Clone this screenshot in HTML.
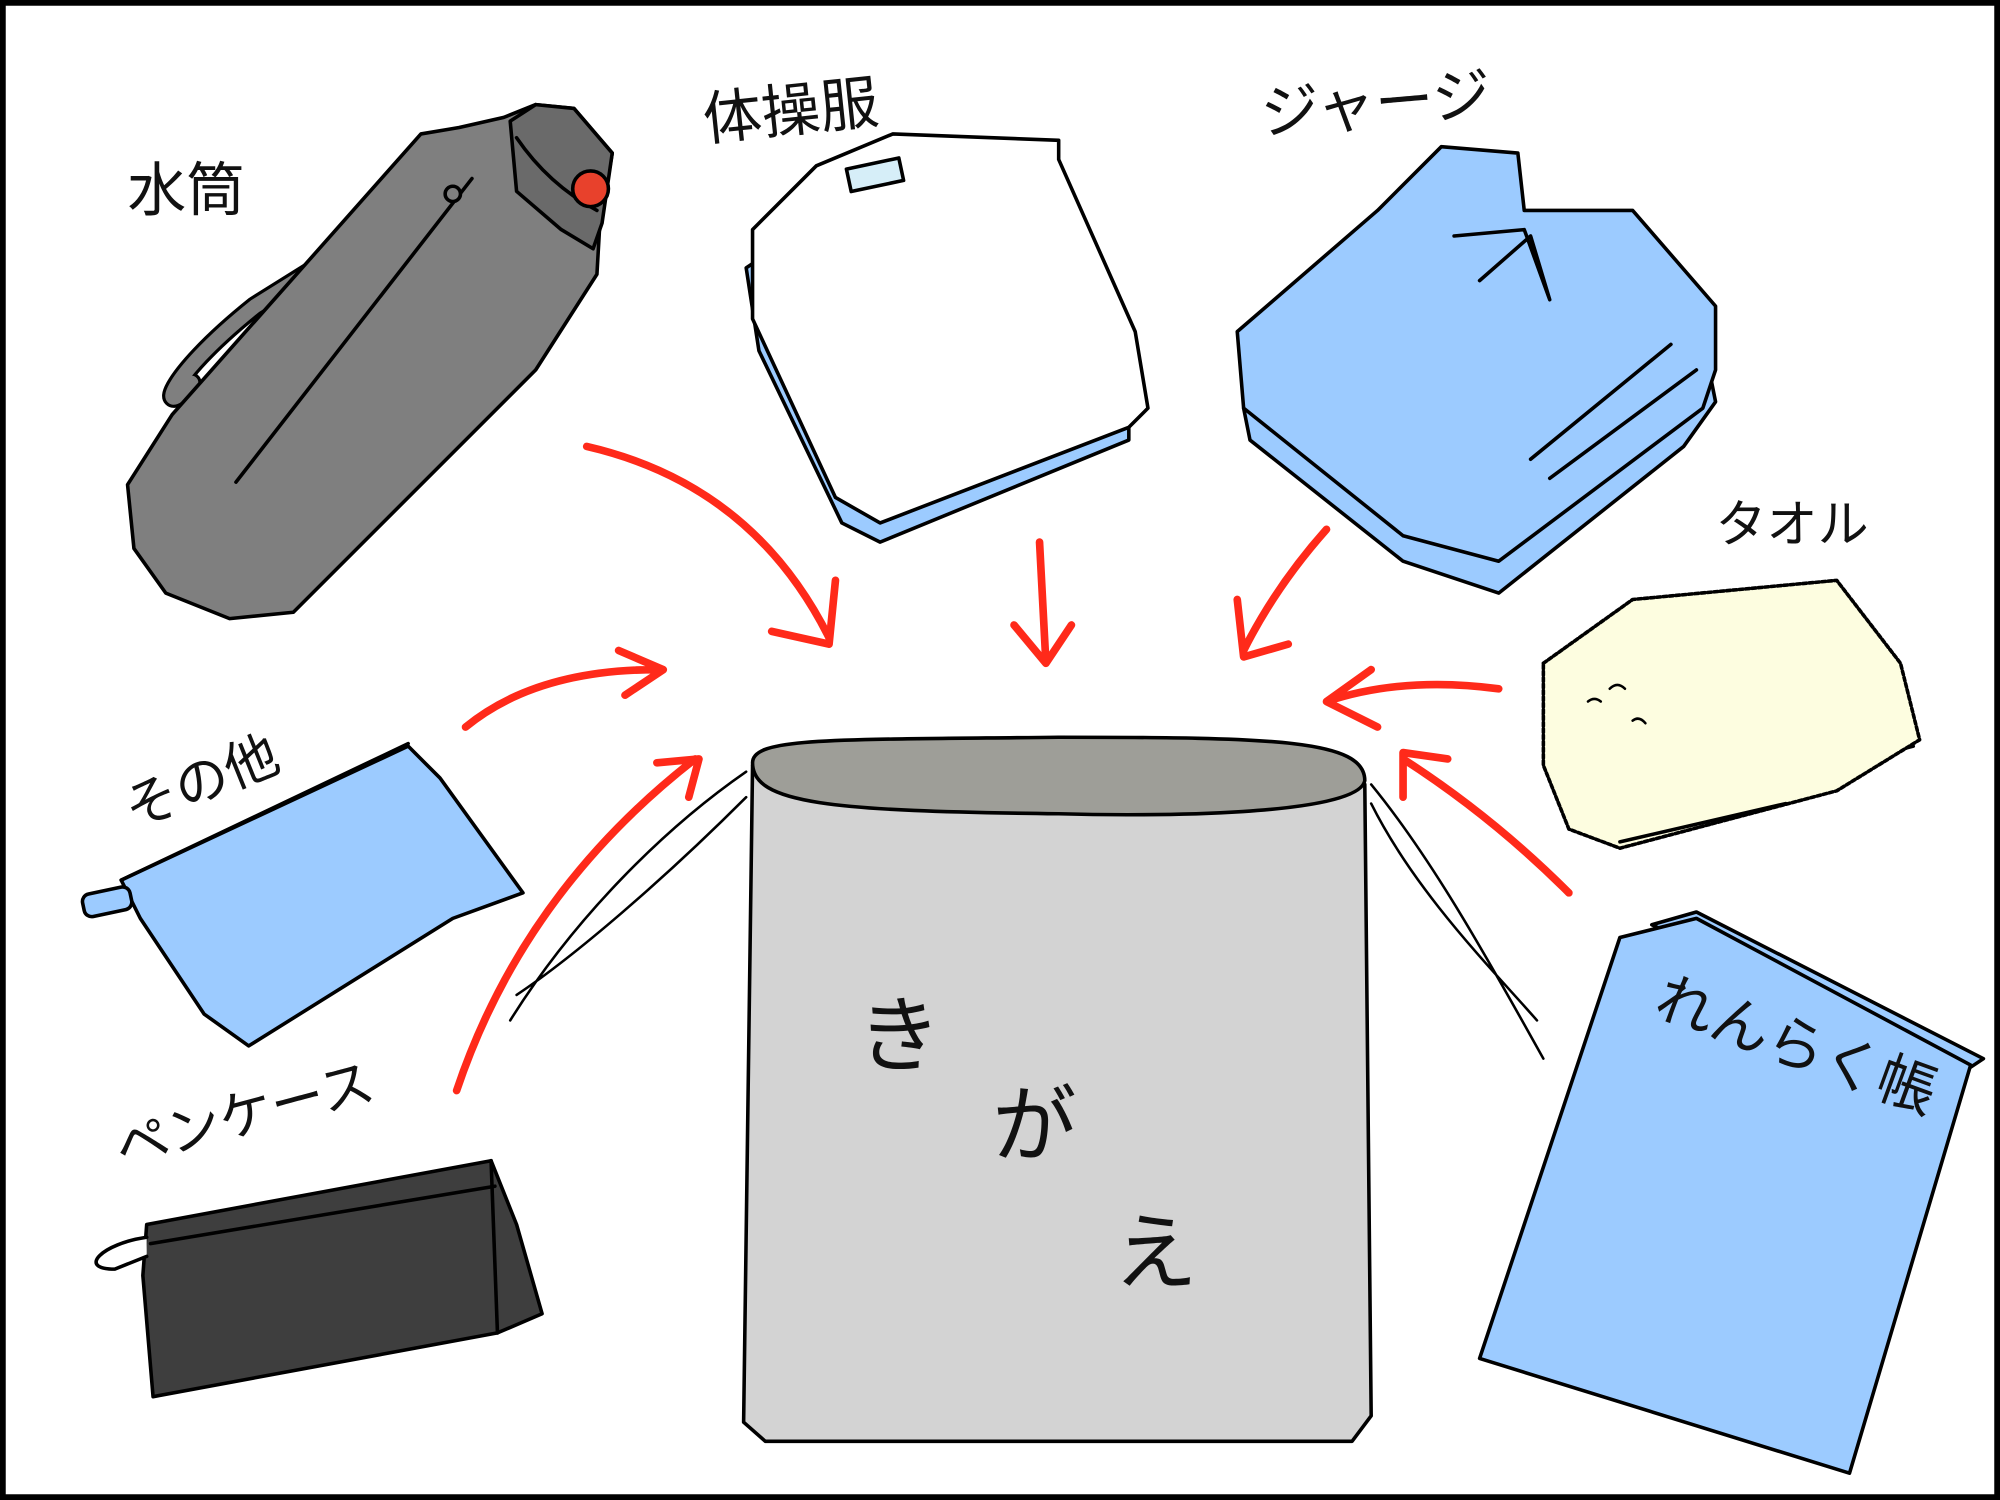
<!DOCTYPE html>
<html><head><meta charset="utf-8"><style>
html,body{margin:0;padding:0;background:#fff}
svg{display:block}
text{font-family:"Liberation Sans","Noto Sans CJK JP",sans-serif;fill:#111}
</style></head><body>
<svg width="2000" height="1500" viewBox="0 0 1568 1176" xmlns="http://www.w3.org/2000/svg">
<rect x="0" y="0" width="1568" height="1176" fill="#fff"/>
<rect x="2" y="2" width="1564" height="1172" fill="none" stroke="#000" stroke-width="5"/>
<g stroke="#000" stroke-width="2.8" stroke-linejoin="round" stroke-linecap="round">
<path d="M150,300 C125,330 125,300 200,240 L320,165" fill="none" stroke="#000" stroke-width="16"/>
<path d="M150,300 C125,330 125,300 200,240 L320,165" fill="none" stroke="#7f7f7f" stroke-width="11"/>
<path d="M100,380 L135,325 L330,105 L360,100 L395,92 L420,82 L450,85 L480,120 L470,180 L468,215 L420,290 L230,480 L180,485 L130,465 L105,430 Z" fill="#7f7f7f"/>
<path d="M400,95 L420,82 L450,85 L480,120 L472,175 L465,195 L440,180 L405,150 Z" fill="#6a6a6a"/>
<path d="M405,108 C420,130 440,150 468,165" fill="none"/>
<line x1="185" y1="378" x2="370" y2="140" fill="none"/>
<circle cx="463" cy="148" r="14" fill="#e8412c"/>
<circle cx="355" cy="152" r="6" fill="#7f7f7f"/>
<path d="M585,210 L600,200 L885,320 L885,345 L690,425 L660,410 L595,275 Z" fill="#9ccbff"/>
<path d="M590,180 L640,130 L700,105 L830,110 L830,125 L890,260 L900,320 L885,335 L690,410 L655,390 L590,250 Z" fill="#fff"/>
<rect x="665" y="128" width="42" height="18" fill="#d6eef8" transform="rotate(-12 686 137)"/>
<path d="M975,320 L985,310 L1340,290 L1345,315 L1320,350 L1175,465 L1100,440 L980,345 Z" fill="#9ccbff"/>
<path d="M970,260 L1080,165 L1130,115 L1190,120 L1195,165 L1280,165 L1345,240 L1345,290 L1335,320 L1175,440 L1100,420 L975,320 Z" fill="#9ccbff"/>
<path d="M1140,185 L1195,180 L1215,235 L1200,185 L1160,220" fill="none"/>
<path d="M1200,360 L1310,270 M1215,375 L1330,290" fill="none"/>
<path d="M1210,560 L1250,650 L1440,600 L1500,585" fill="none"/>
<path d="M1210,520 L1280,470 L1440,455 L1490,520 L1505,580 L1440,620 L1270,665 L1230,650 L1210,600 Z" fill="#fdfde0" stroke-dasharray="3,2"/>
<path d="M1270,660 L1400,630" fill="none"/>
<path d="M1262,540 q6,-6 12,0 M1245,550 q5,-4 10,0 M1280,565 q5,-4 10,2" fill="none" stroke-width="2"/>
<path d="M95,690 L320,585 L345,610 L410,700 L355,720 L195,820 L160,795 L110,720 Z" fill="#9ccbff"/>
<path d="M95,690 L320,583" fill="none"/>
<rect x="65" y="698" width="38" height="18" rx="6" fill="#9ccbff" transform="rotate(-12 84 707)"/>
<path d="M115,960 L385,910 L405,960 L425,1030 L390,1045 L120,1095 L112,1000 Z" fill="#3e3e3e"/>
<path d="M118,975 L388,930" fill="none"/>
<path d="M385,910 L390,1045" fill="none"/>
<path d="M115,970 C80,975 60,995 90,995 L115,985" fill="#fff"/>
<path d="M1295,725 L1330,715 L1555,830 L1540,840 Z" fill="#9ccbff"/>
<path d="M1270,735 L1330,720 L1545,835 L1450,1155 L1160,1065 Z" fill="#9ccbff"/>
<path d="M585,605 C520,650 450,720 400,800 M585,625 C520,690 450,750 405,780" fill="none" stroke-width="2"/>
<path d="M1075,615 C1120,670 1160,740 1210,830 M1075,630 C1110,700 1170,760 1205,800" fill="none" stroke-width="2"/>
<path d="M590,600 L583,1115 L600,1130 L1060,1130 L1075,1110 L1070,615 Z" fill="#d3d3d3"/>
<path d="M590,598 C590,578 650,580 830,578 C1000,578 1070,580 1070,612 C1065,640 900,640 830,638 C650,636 590,630 590,598 Z" fill="#9e9e98"/>
</g>
<g stroke="#ff2a1a" stroke-width="6" fill="none" stroke-linecap="round" stroke-linejoin="round">
<path d="M460,350 Q590,380 650,500 M605,495 L650,505 L655,455"/>
<path d="M815,425 L820,520 M795,490 L820,520 L840,490"/>
<path d="M1040,415 Q1000,460 975,510 M970,470 L975,515 L1010,505"/>
<path d="M365,570 Q420,525 515,525 M485,510 L520,525 L490,545"/>
<path d="M1175,540 Q1100,530 1040,550 M1075,525 L1040,550 L1080,570"/>
<path d="M1230,700 Q1170,640 1100,595 M1100,625 L1100,590 L1135,595"/>
<path d="M358,855 Q410,700 545,595 M515,598 L548,595 L540,625"/>
</g>
<text x="100" y="165" font-size="46">水筒</text>
<text x="553" y="110" font-size="46" transform="rotate(-6 553 110)">体操服</text>
<text x="990" y="105" font-size="46" transform="rotate(-5 990 105)">ジャージ</text>
<text x="1345" y="425" font-size="40">タオル</text>
<text x="105" y="650" font-size="42" transform="rotate(-22 105 650)">その他</text>
<text x="95" y="915" font-size="42" transform="rotate(-15 95 915)">ペンケース</text>
<text x="1295" y="795" font-size="46" transform="rotate(20 1295 795)">れんらく帳</text>
<text x="672" y="835" font-size="66">き</text>
<text x="778" y="905" font-size="66">が</text>
<text x="873" y="1005" font-size="66">え</text>
</svg>
</body></html>
